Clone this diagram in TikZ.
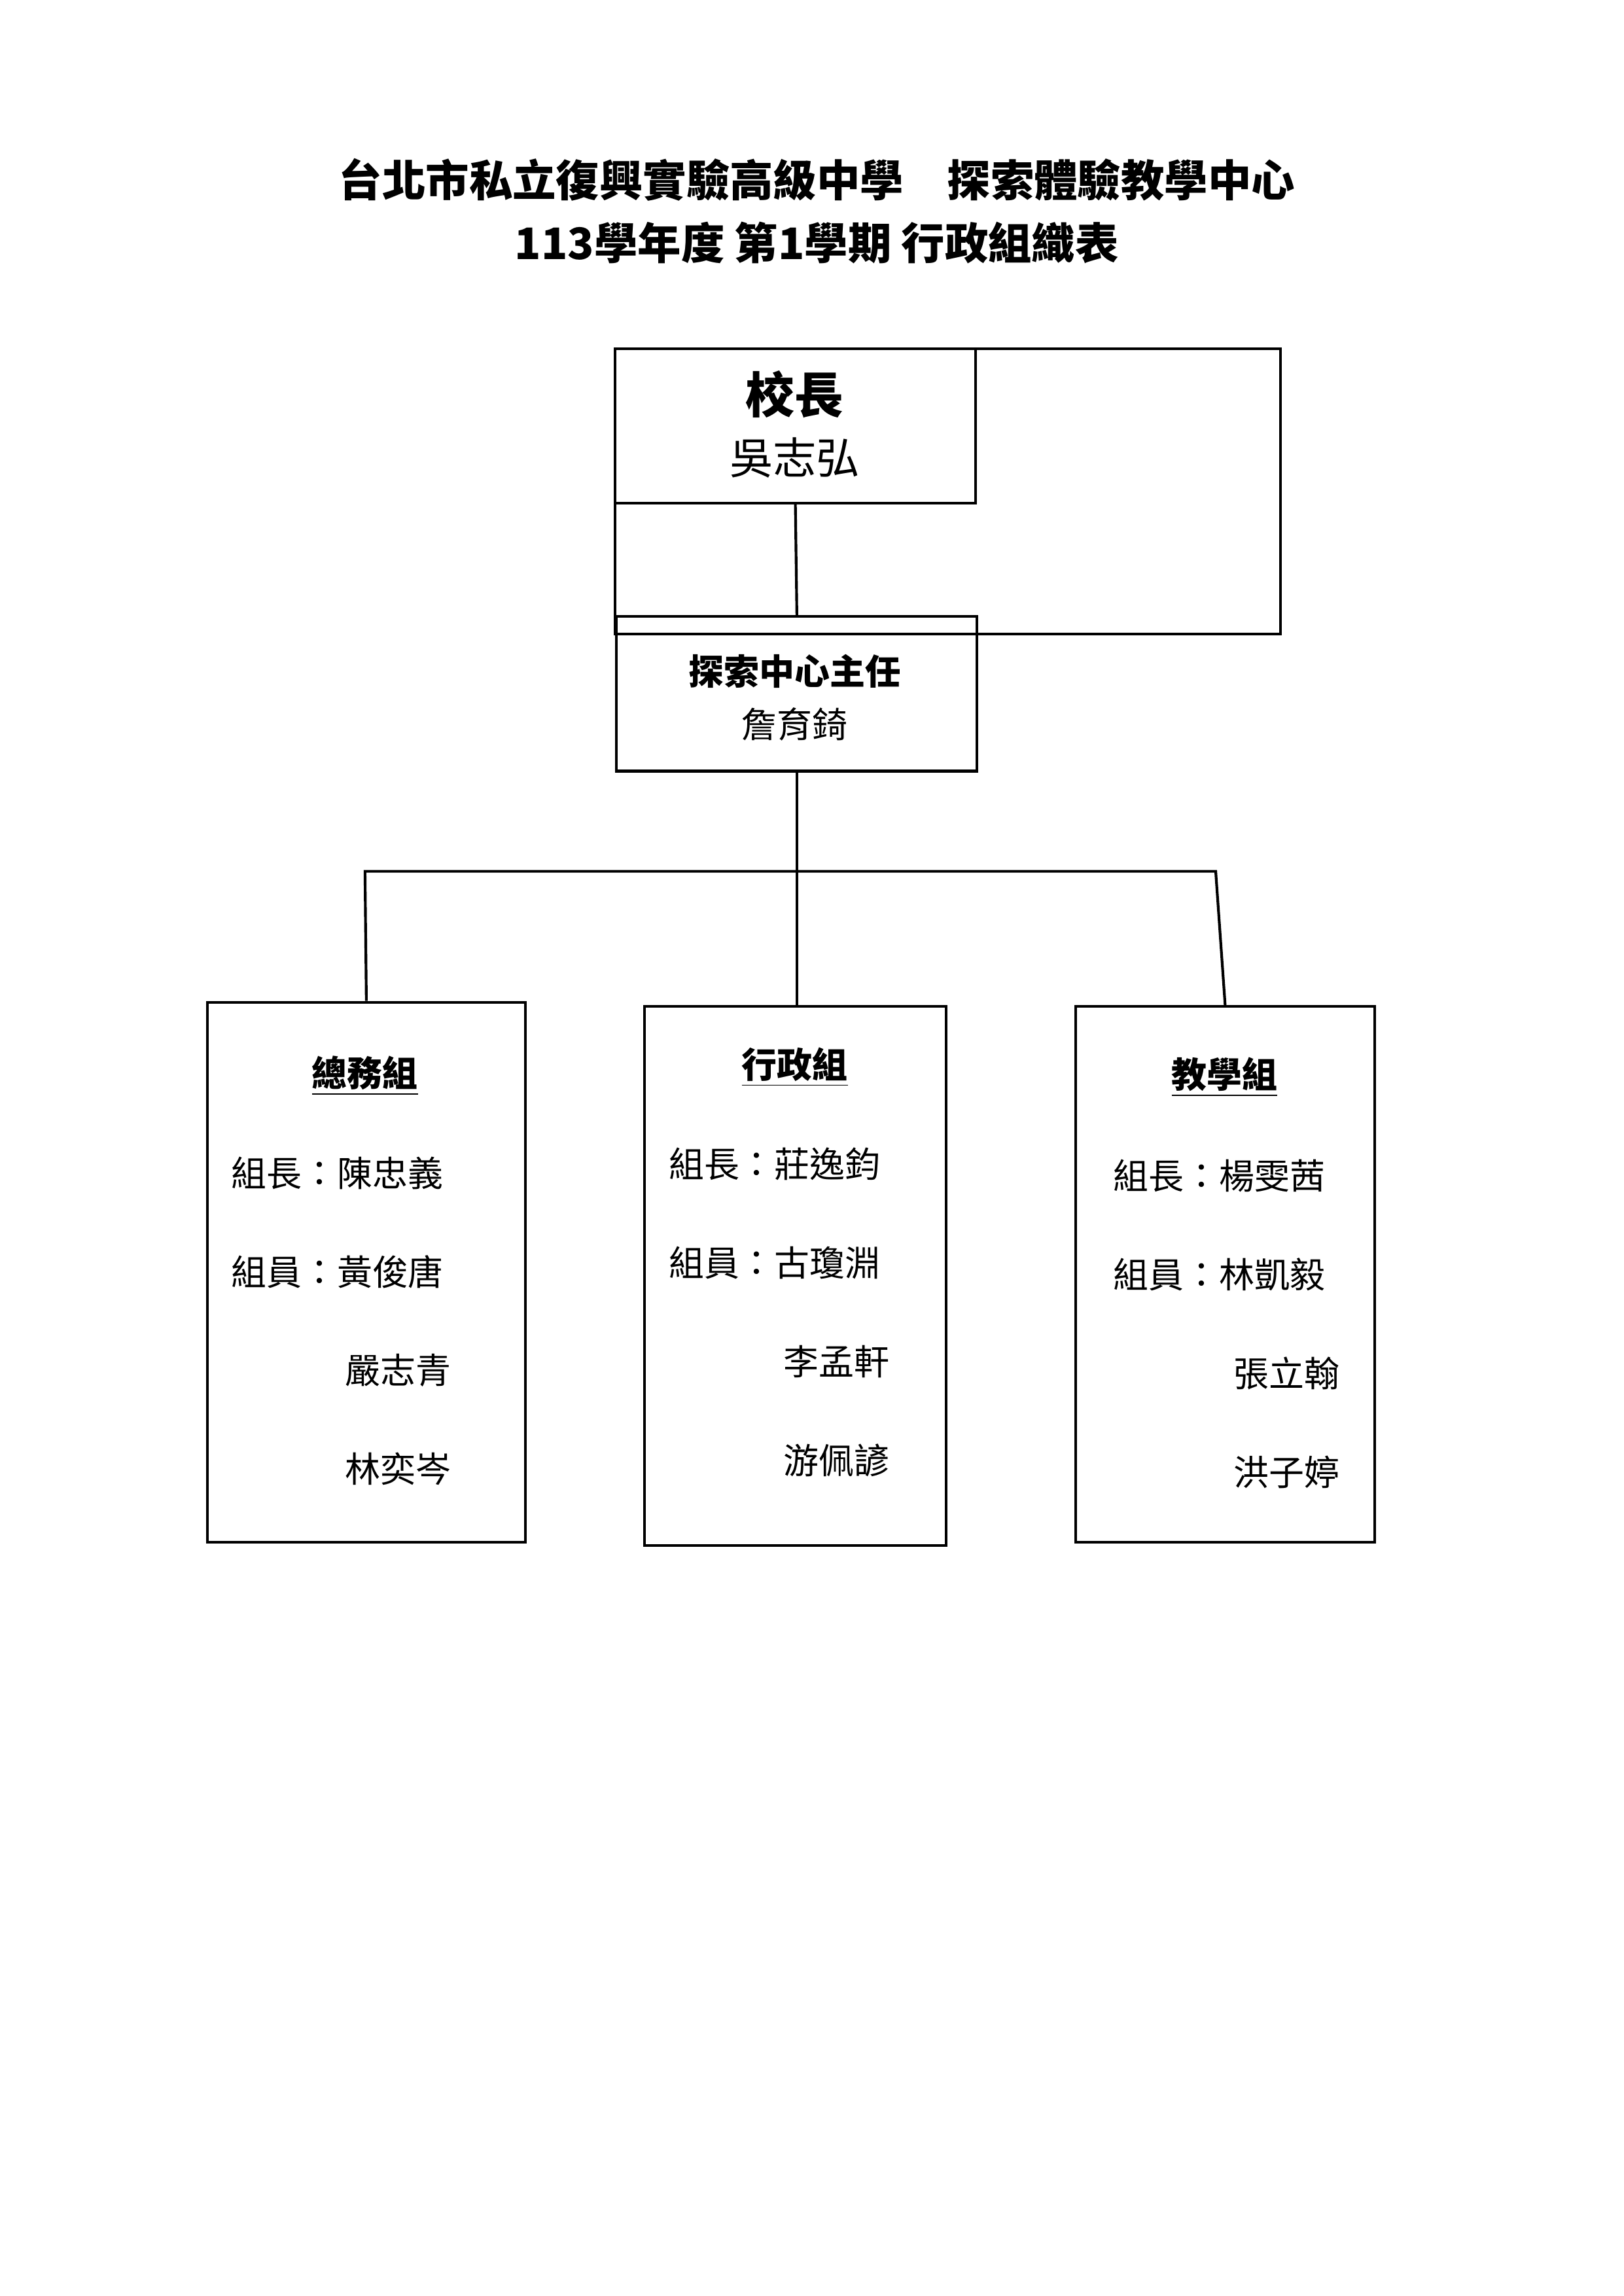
\documentclass[tikz,border=0pt]{standalone}
\usepackage{fontspec}
\setmainfont{Noto Sans CJK TC}
\begin{document}
\begin{tikzpicture}[x=0.01904cm,y=-0.01904cm]
        %styles
        \tikzset{
          box/.style={draw,line width=1pt,inner sep=0pt,anchor=north west},
          row/.style={anchor=west,inner sep=0pt,font=\fontsize{13}{15}\selectfont},
          head/.style={inner sep=1pt,font=\fontsize{13}{15}\selectfont\bfseries},
          link/.style={line width=1pt}
        }
        \useasboundingbox (0,0) rectangle (1103,1560);
        % Titulo
        \node[font=\fontsize{16}{18}\selectfont\bfseries] (title1) at (555,122) {台北市私立復興實驗高級中學\quad 探索體驗教學中心};
        \node[font=\fontsize{16}{18}\selectfont\bfseries] (title2) at (555,165) {113學年度 第1學期 行政組織表};

        % Cajas
        \node[box,minimum width=245\pgflinewidth,minimum height=105\pgflinewidth] (principal) at (417,236) {};
        \node[box,minimum width=245*0.01904cm,minimum height=105*0.01904cm] (principal) at (417,236) {};
        \node[box,minimum width=245*0.01904cm,minimum height=105*0.01904cm] (director) at (418,418) {};
        \node[box,minimum width=216*0.01904cm,minimum height=367*0.01904cm] (general) at (140,680) {};
        \node[box,minimum width=205*0.01904cm,minimum height=366*0.01904cm] (admin) at (437,683) {};
        \node[box,minimum width=203*0.01904cm,minimum height=364*0.01904cm] (teach) at (730,683) {};

        % Textos
        \node[font=\fontsize{18}{20}\selectfont\bfseries] (prtitle) at (540,268) {校長};
        \node[font=\fontsize{16}{18}\selectfont] (prname) at (540,311) {吳志弘};
        \node[font=\fontsize{13}{15}\selectfont\bfseries] (dirtitle) at (540,456) {探索中心主任};
        \node[font=\fontsize{13}{15}\selectfont] (dirname) at (540,492) {詹育錡};

        \node[head] (genhead) at (248,731) {\underline{總務組}};
        \node[row] (gen1) at (157,797) {組長：陳忠義};
        \node[row] (gen2) at (157,864) {組員：黃俊唐};
        \node[row] (gen3) at (234,931) {嚴志青};
        \node[row] (gen4) at (234,998) {林奕岑};

        \node[head] (admhead) at (540,725) {\underline{行政組}};
        \node[row] (adm1) at (454,791) {組長：莊逸鈞};
        \node[row] (adm2) at (454,858) {組員：古瓊淵};
        \node[row] (adm3) at (532,925) {李孟軒};
        \node[row] (adm4) at (532,992) {游佩諺};

        \node[head] (teahead) at (832,732) {\underline{教學組}};
        \node[row] (tea1) at (756,799) {組長：楊雯茜};
        \node[row] (tea2) at (756,866) {組員：林凱毅};
        \node[row] (tea3) at (838,933) {張立翰};
        \node[row] (tea4) at (838,1000) {洪子婷};

        % Conectores
        \coordinate (busL) at (248,592);
        \coordinate (busR) at (826,592);
        \draw[link] (principal.south) -- (director.north);
        \draw[link] (director.south) -- (director.south |- admin.north);
        \draw[link] (general.north) -- (busL) -- (busR) -- (teach.north);
\end{tikzpicture}
\end{document}
